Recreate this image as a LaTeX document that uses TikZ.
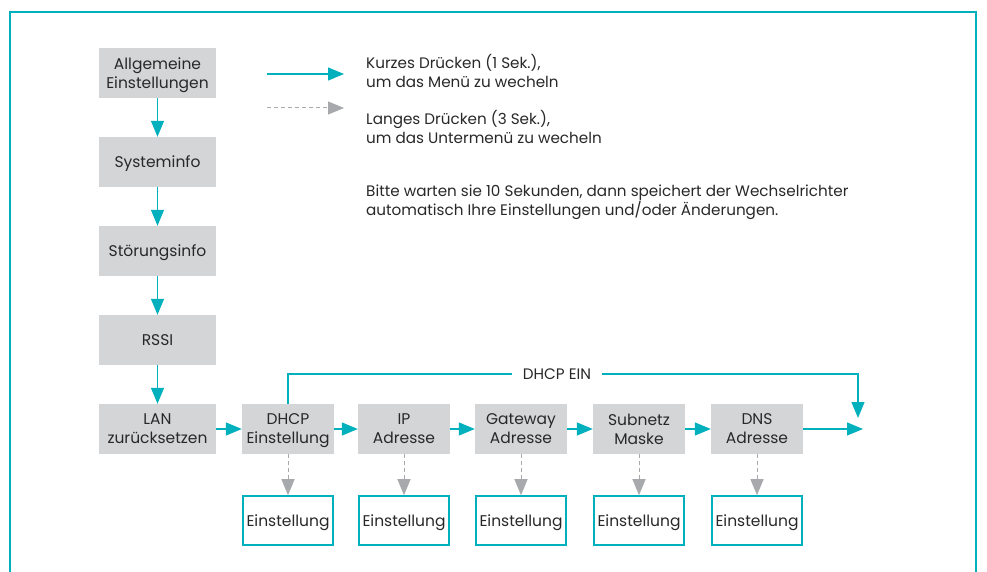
\documentclass[tikz,border=0pt]{standalone}
\usepackage{fontspec}
\setmainfont{Poppins}
\usepackage{xcolor}
\usepackage{tikz}
\usetikzlibrary{positioning}
\usetikzlibrary{arrows.meta}

\definecolor{cyanline}{RGB}{0,176,189}
\definecolor{boxgray}{RGB}{212,213,215}
\definecolor{tipgray}{RGB}{168,169,173}
\definecolor{ink}{RGB}{40,40,40}

\tikzset{
  menu/.style={fill=boxgray, text=ink, align=center, minimum height=50pt, inner sep=0pt, text depth=0pt, font=\fontsize{15.5}{19}\selectfont},
  wide/.style={menu, minimum width=117pt},
  narrow/.style={menu, minimum width=92pt},
  sub/.style={draw=cyanline, line width=1.8pt, text=ink, minimum width=90pt, minimum height=49pt, inner sep=0pt, text depth=0pt, font=\fontsize{15.5}{19}\selectfont},
  short/.style={draw=cyanline, line width=1.3pt, -{Triangle[length=16pt,width=13pt,fill=cyanline]}},
  long/.style={draw=tipgray, line width=1pt, dash pattern=on 4pt off 3pt, -{Triangle[length=16pt,width=13pt,fill=tipgray]}},
  note/.style={anchor=west, align=left, text=ink, inner sep=0pt, font=\fontsize{15.2}{19}\selectfont}
}

\begin{document}
\begin{tikzpicture}[x=1pt,y=-1pt]
		\useasboundingbox (0,0) rectangle (987,572);
		\draw[cyanline, line width=1.8pt] (10,572) |- (976,12) -- (976,572);
		
		% main menu
		\node[wide] (allg) at (157.5,73) {Allgemeine\\Einstellungen};
		\node[wide] (sys) at (157.5,162) {Systeminfo};
		\node[wide] (stoer) at (157.5,251) {Störungsinfo};
		\node[wide] (rssi) at (157.5,340) {RSSI};
		\node[wide] (lan) at (157.5,429) {LAN\\zurücksetzen};
		
		\draw[short] (allg) -- (sys);
		\draw[short] (sys) -- (stoer);
		\draw[short] (stoer) -- (rssi);
		\draw[short] (rssi) -- (lan);
		
		% LAN sub menu
		\node[narrow] (dhcp) at (288,429) {DHCP\\Einstellung};
		\node[narrow] (ip) at (404,429) {IP\\Adresse};
		\node[narrow] (gw) at (521,429) {Gateway\\Adresse};
		\node[narrow] (mask) at (639,429) {Subnetz\\Maske};
		\node[narrow] (dns) at (757,429) {DNS\\Adresse};
		\coordinate (ende) at (863,429);
		
		\draw[short] (lan) -- (dhcp);
		\draw[short] (dhcp) -- (ip);
		\draw[short] (ip) -- (gw);
		\draw[short] (gw) -- (mask);
		\draw[short] (mask) -- (dns);
		\draw[short] (dns) -- (ende);
		
		\node[text=ink, font=\fontsize{15.2}{19}\selectfont, fill=white, inner xsep=11pt, inner ysep=2pt] (ein) at (557,374) {DHCP EIN};
		\coordinate (knick) at (858,374);
		\coordinate (ziel) at (858,418);
		\draw[cyanline, line width=1.3pt] (dhcp.north) |- (ein.west);
		\draw[short] (ein.east) -- (knick) -- (ziel);
		
		% settings
		\foreach \m in {dhcp,ip,gw,mask,dns} {
			\node[sub] (\m-set) [below = 41pt of \m] {Einstellung};
			\draw[long] (\m) -- (\m-set);
		}
		
		% legend
		\coordinate (k1) at (267,74);
		\coordinate (k2) at (344,74);
		\coordinate (l1) at (267,108);
		\coordinate (l2) at (344,108);
		\draw[short] (k1) -- (k2);
		\draw[long] (l1) -- (l2);
		\node[note] (kurz) at (366,71) {Kurzes Drücken (1 Sek.),\\um das Menü zu wecheln};
		\node[note] (lang) at (366,127) {Langes Drücken (3 Sek.),\\um das Untermenü zu wecheln};
		\node[note] (bitte) at (366,202) {Bitte warten sie 10 Sekunden, dann speichert der Wechselrichter\\automatisch Ihre Einstellungen und/oder Änderungen.};
\end{tikzpicture}
\end{document}
